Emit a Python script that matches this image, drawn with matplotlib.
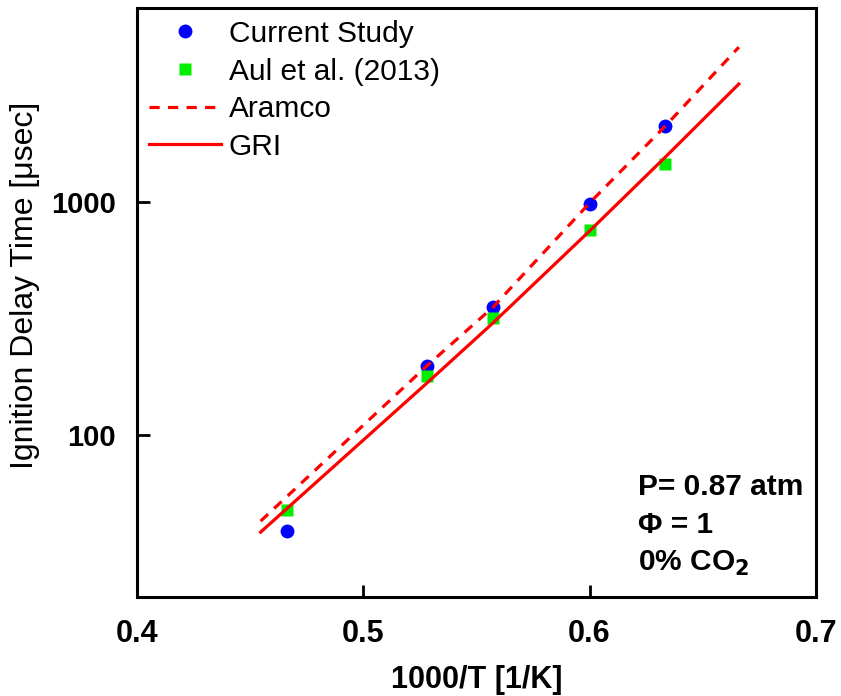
import matplotlib
matplotlib.use("Agg")
from matplotlib import pyplot as plt
import numpy as np

# measured ignition delays
x_current = [0.4661, 0.5282, 0.5573, 0.6004, 0.6335]
y_current = [38.7, 198, 354, 980, 2120]

x_aul = [0.4661, 0.5282, 0.5573, 0.6004, 0.6335]
y_aul = [48, 179, 318, 758, 1456]

# model predictions
x_model = [0.4546, 0.528, 0.5573, 0.6004, 0.6335, 0.666]
y_aramco = [42.8, 198, 354, 1000, 2120, 4620]
y_gri = [38.4, 167, 303, 758, 1560, 3210]

x_ticks = [0.4, 0.5, 0.6, 0.7]
y_ticks = [100, 1000]

plt.rcParams['font.family'] = ['Liberation Sans', 'DejaVu Sans']

fig = plt.figure(figsize=(8.41, 6.96), dpi=100)
ax = fig.add_axes([0.163, 0.142, 0.807, 0.8465])

ax.plot(x_current, y_current, 'o', color='#0000ff', ms=10, mec='none', label='Current Study')
ax.plot(x_aul, y_aul, 's', color='#00ee00', ms=9, mec='none', label='Aul et al. (2013)')
ax.plot(x_model, y_aramco, color='#ff0000', lw=2.3, ls=(0, (3.2, 2.6)), label='Aramco')
ax.plot(x_model, y_gri, color='#ff0000', lw=2.3, label='GRI')

ax.set_yscale('log')
ax.set_xlim(0.4, 0.7)
ax.set_ylim(20.2, 6800)
ax.set_xticks(x_ticks)
ax.set_xticklabels(['0.4', '0.5', '0.6', '0.7'])
ax.set_yticks(y_ticks)
ax.set_yticklabels(['100', '1000'])
ax.yaxis.set_minor_locator(matplotlib.ticker.NullLocator())

for s in ax.spines.values():
    s.set_linewidth(2.2)
ax.tick_params(direction='in', length=9, width=2)
ax.tick_params(axis='x', pad=16, labelsize=22)
ax.tick_params(axis='y', pad=15, labelsize=21)
for lab in ax.get_xticklabels() + ax.get_yticklabels():
    lab.set_fontweight('bold')

ax.set_xlabel('1000/T [1/K]', fontsize=22, fontweight='bold', labelpad=11)
ax.set_ylabel('Ignition Delay Time [\u03bcsec]', fontsize=23, labelpad=8)
ax.yaxis.label.set_y(0.53)

ax.legend(loc='upper left', frameon=False, fontsize=21.5, handlelength=2.4,
          handletextpad=0.27, labelspacing=0.32, borderaxespad=0.1, borderpad=0.3)

# run conditions
ax.text(0.738, 0.187, 'P= 0.87 atm', transform=ax.transAxes, fontsize=21.5,
        fontweight='bold', va='center')
ax.text(0.738, 0.122, '\u03a6 = 1', transform=ax.transAxes, fontsize=21.5,
        fontweight='bold', va='center')
ax.text(0.738, 0.058, r'0% CO$_\mathbf{2}$', transform=ax.transAxes, fontsize=21.5,
        fontweight='bold', va='center')

fig.savefig('out.png', dpi=100)
